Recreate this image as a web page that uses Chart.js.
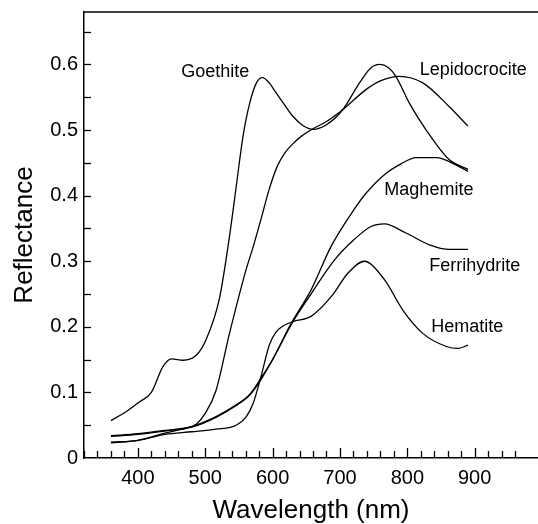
<!DOCTYPE html>
<html><head><meta charset="utf-8">
<script src="https://cdn.jsdelivr.net/npm/chart.js@4"></script>
<style>html,body{margin:0;padding:0;background:#fff}#wrap{width:538px;height:524px}</style>
</head><body><div id="wrap"><canvas id="c"></canvas></div>
<script>
const goethiteNm = [360,383,403,420,437,450,467,487,501,521,536,546,556,566,576,585,595,605,618,630,645,660,680,704,729,745,759,772,783,803,828,862,890];
const goethiteR  = [0.057,0.071,0.086,0.100,0.139,0.151,0.149,0.157,0.180,0.243,0.338,0.414,0.490,0.541,0.572,0.580,0.572,0.557,0.538,0.521,0.507,0.501,0.508,0.531,0.572,0.594,0.600,0.595,0.582,0.541,0.500,0.455,0.440];
const lepidoNm = [360,400,440,470,487,500,516,536,560,572,583,595,607,618,630,642,660,680,704,739,760,788,823,862,890];
const lepidoR  = [0.023,0.027,0.038,0.045,0.052,0.068,0.103,0.190,0.285,0.325,0.365,0.410,0.445,0.465,0.479,0.490,0.502,0.513,0.531,0.562,0.575,0.582,0.572,0.536,0.506];
const maghemiteNm = [360,400,440,480,516,546,566,583,600,628,657,687,721,739,766,790,813,843,872,890];
const maghemiteR  = [0.034,0.037,0.042,0.048,0.063,0.081,0.097,0.122,0.150,0.206,0.256,0.323,0.379,0.404,0.432,0.448,0.458,0.458,0.447,0.437];
const ferriNm = [360,400,440,480,516,546,566,583,600,628,657,692,721,746,766,798,833,862,890];
const ferriR  = [0.033,0.036,0.041,0.047,0.062,0.080,0.096,0.120,0.150,0.204,0.250,0.302,0.333,0.353,0.357,0.343,0.325,0.318,0.318];
const hematiteNm = [360,400,440,480,516,546,561,571,583,595,605,615,630,657,687,712,736,766,793,823,858,875,890];
const hematiteR  = [0.024,0.027,0.036,0.040,0.044,0.050,0.063,0.083,0.125,0.172,0.192,0.201,0.208,0.216,0.246,0.282,0.300,0.272,0.226,0.190,0.170,0.167,0.172];

const seriesNames = ['Goethite','Lepidocrocite','Maghemite','Ferrihydrite','Hematite'];
const seriesNm = [goethiteNm, lepidoNm, maghemiteNm, ferriNm, hematiteNm];
const seriesR = [goethiteR, lepidoR, maghemiteR, ferriR, hematiteR];
// label anchors in data units (wavelength, reflectance)
const labelNm = [515, 898, 832, 900, 889];
const labelR  = [0.588, 0.592, 0.409, 0.292, 0.200];

const FONT = '"Liberation Sans", Arial, Helvetica, sans-serif';

const decor = {
  id: 'decor',
  afterDraw(chart) {
    const {ctx, chartArea: a, scales: {x, y}} = chart;
    ctx.save();
    ctx.strokeStyle = '#000';
    ctx.lineWidth = 1.5;
    ctx.beginPath(); ctx.moveTo(a.left, a.top); ctx.lineTo(a.right, a.top); ctx.stroke();
    ctx.lineWidth = 1.3;
    x.ticks.forEach(t => {
      const v = Math.round(t.value);
      if (v % 20 !== 0) return;
      const px = Math.round(x.getPixelForValue(v)) + 0.5;
      const len = v % 100 === 0 ? 10 : 7;
      ctx.beginPath(); ctx.moveTo(px, a.bottom); ctx.lineTo(px, a.bottom - len); ctx.stroke();
    });
    y.ticks.forEach(t => {
      const k = t.value / 0.05;
      if (Math.abs(k - Math.round(k)) > 1e-6 || t.value <= 0) return;
      const py = Math.round(y.getPixelForValue(t.value)) + 0.5;
      ctx.beginPath(); ctx.moveTo(a.left, py); ctx.lineTo(a.left + 7, py); ctx.stroke();
    });
    ctx.fillStyle = '#000';
    ctx.font = '18px ' + FONT;
    ctx.textAlign = 'center';
    ctx.textBaseline = 'middle';
    seriesNames.forEach((n, i) => {
      ctx.fillText(n, x.getPixelForValue(labelNm[i]), y.getPixelForValue(labelR[i]));
    });
    ctx.restore();
  }
};

new Chart(document.getElementById('c'), {
  type: 'line',
  data: {
    datasets: seriesNames.map((n, i) => ({
      label: n,
      data: seriesNm[i].map((w, j) => ({x: w, y: seriesR[i][j]})),
      borderColor: '#000',
      borderWidth: 1.3,
      pointRadius: 0,
      fill: false,
      cubicInterpolationMode: 'monotone'
    }))
  },
  options: {
    responsive: true,
    maintainAspectRatio: false,
    animation: false,
    layout: {padding: {top: 12, right: 0, left: 0, bottom: 0}},
    plugins: {legend: {display: false}, tooltip: {enabled: false}},
    scales: {
      x: {
        type: 'linear', min: 320, max: 994,
        grid: {display: false, drawTicks: true, tickLength: 8},
        border: {display: true, color: '#000', width: 1.5},
        ticks: {
          stepSize: 20, autoSkip: false, maxRotation: 0, color: '#000', padding: 0,
          font: {family: FONT, size: 20},
          callback: v => (Math.round(v) % 100 === 0 ? String(Math.round(v)) : '')
        },
        title: {display: true, text: 'Wavelength (nm)', color: '#000', font: {family: FONT, size: 26, lineHeight: 1.0}, padding: {top: 0, bottom: 0}},
        afterFit: s => { s.height = 66; }
      },
      y: {
        min: 0, max: 0.68,
        grid: {display: false, drawTicks: true, tickLength: 6},
        border: {display: true, color: '#000', width: 1.5},
        ticks: {
          stepSize: 0.05, autoSkip: false, color: '#000', padding: 0,
          font: {family: FONT, size: 20, lineHeight: 1.0},
          callback: v => {
            const k = v * 10;
            if (Math.abs(k - Math.round(k)) > 1e-6) return '';
            return Math.round(k) === 0 ? '0' : (Math.round(k) / 10).toFixed(1);
          }
        },
        title: {display: true, text: 'Reflectance', color: '#000', font: {family: FONT, size: 26}, padding: {top: 9, bottom: 0}},
        afterFit: s => { s.width = 84; }
      }
    }
  },
  plugins: [decor]
});
</script>
</body></html>
